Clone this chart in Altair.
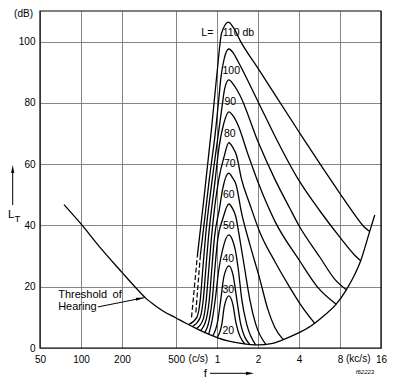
import altair as alt
import pandas as pd

W, H = 341, 337
FONT = "Liberation Sans"

# ---- axes ----
x_ticks = [0.05, 0.1, 0.2, 0.5, 1, 2, 4, 8, 16]          # kHz
y_grid = [0, 10, 20, 30, 40, 50, 60, 70, 80, 90, 100, 110]

# ---- threshold of hearing (kHz, dB) ----
thr_f = [0.075, 0.1, 0.14, 0.2, 0.25, 0.3, 0.35, 0.4, 0.5, 0.6, 0.7, 0.8, 0.9, 1.0, 1.2, 1.5,
         2.0, 2.5, 3.0, 4.0, 4.85, 6.0, 7.5, 8.9, 10.0, 11.35, 13.2, 14.4]
thr_db = [46.8, 40.5, 32.5, 24.7, 19.9, 16.2, 13.9, 12.1, 9.8, 7.9, 6.4, 5.2, 4.2, 3.4, 2.3, 1.5,
          1.0, 1.4, 2.6, 5.0, 7.1, 10.3, 14.3, 19.0, 23.0, 28.5, 38.0, 43.4]

# ---- masking curves, masker level L (kHz, dB) ----
m110_f = [0.716, 0.80, 0.91, 1.0, 1.08, 1.21, 1.33, 1.47, 2.0, 4.0, 6.0, 8.0, 10.0, 12.0, 13.2]
m110_db = [30.0, 48.7, 71.6, 90.0, 102.8, 106.4, 104.3, 100.5, 91.3, 70.5, 58.6, 50.4, 44.2, 39.6, 38.0]
m110d_f = [0.649, 0.716]
m110d_db = [10.0, 30.0]

m100_f = [0.753, 0.779, 0.877, 0.978, 1.03, 1.065, 1.13, 1.22, 1.32, 1.426, 2.0, 2.65, 3.93, 5.68, 7.97, 10.26, 11.35]
m100_db = [30.1, 35.6, 55.2, 71.6, 81.5, 88.0, 94.6, 97.6, 96.2, 93.5, 80.4, 69.3, 55.2, 44.8, 36.2, 30.3, 28.5]
m100d_f = [0.698, 0.753]
m100d_db = [11.6, 30.1]

m90_f = [0.62, 0.71, 0.753, 0.785, 0.819, 0.922, 1.034, 1.083, 1.139, 1.22, 1.32, 1.468, 2.0, 2.65, 3.42, 4.0, 5.68, 7.3, 8.9]
m90_db = [7.7, 10.0, 15.9, 25.7, 35.6, 55.2, 71.6, 78.2, 84.8, 87.5, 86.0, 82.6, 67.3, 55.2, 45.6, 39.9, 29.7, 22.5, 19.0]

m80_f = [0.663, 0.746, 0.792, 0.826, 0.862, 0.97, 1.03, 1.12, 1.22, 1.32, 1.426, 1.68, 2.06, 2.65, 4.05, 5.49, 7.5]
m80_db = [7.1, 9.6, 15.9, 25.7, 35.6, 55.2, 65.1, 73.3, 77.1, 75.6, 72.7, 63.4, 52.6, 41.5, 28.4, 19.8, 14.3]

m70_f = [0.71, 0.792, 0.833, 0.869, 0.907, 1.03, 1.12, 1.22, 1.31, 1.388, 1.51, 1.738, 2.06, 2.65, 3.42, 4.2, 5.2]
m70_db = [6.4, 9.5, 15.9, 25.7, 35.6, 55.2, 62.1, 67.0, 65.3, 62.9, 55.2, 47.0, 37.8, 28.3, 19.8, 13.5, 8.1]

m60_f = [0.76, 0.833, 0.877, 0.914, 0.954, 1.04, 1.10, 1.22, 1.30, 1.372, 1.518, 1.738, 2.06, 2.36, 2.65, 3.05]
m60_db = [5.8, 9.4, 15.9, 25.7, 35.6, 45.4, 52.0, 57.1, 55.5, 53.6, 43.8, 33.9, 22.5, 12.6, 6.8, 2.8]

m50_f = [0.812, 0.877, 0.922, 0.962, 1.012, 1.10, 1.22, 1.30, 1.37, 1.468, 1.597, 1.738, 1.924, 2.28]
m50_db = [5.1, 9.3, 15.9, 25.7, 35.6, 42.1, 47.0, 45.5, 43.0, 35.6, 25.7, 15.9, 7.7, 1.2]

m40_f = [0.869, 0.922, 0.97, 1.03, 1.10, 1.22, 1.29, 1.36, 1.431, 1.518, 1.652, 1.92]
m40_db = [4.6, 9.3, 15.9, 25.7, 32.3, 36.9, 35.5, 32.0, 25.7, 15.9, 7.7, 1.05]

m30_f = [0.93, 1.01, 1.065, 1.12, 1.22, 1.31, 1.395, 1.493, 1.74]
m30_db = [4.0, 8.7, 15.9, 23.1, 26.8, 23.8, 15.9, 7.7, 1.2]

m20_f = [1.0, 1.083, 1.13, 1.22, 1.31, 1.37, 1.6]
m20_db = [3.4, 7.7, 13.6, 17.0, 13.9, 8.7, 1.3]

# ---- curve labels ----
lab_text = ["100", "90", "80", "70", "60", "50", "40", "30", "20"]
lab_f = [1.27, 1.25, 1.24, 1.24, 1.22, 1.22, 1.21, 1.21, 1.21]
lab_db = [90.3, 80.2, 70.0, 59.9, 50.0, 39.9, 29.2, 18.9, 5.5]

rows = []


def add(name, fs, ds, style="solid"):
    for i, (f, d) in enumerate(zip(fs, ds)):
        rows.append(dict(curve=name, order=i, f=f, db=d, style=style))


add("thr", thr_f, thr_db)
for nm, fs, ds in [("110", m110_f, m110_db), ("100", m100_f, m100_db), ("90", m90_f, m90_db),
                   ("80", m80_f, m80_db), ("70", m70_f, m70_db), ("60", m60_f, m60_db),
                   ("50", m50_f, m50_db), ("40", m40_f, m40_db), ("30", m30_f, m30_db),
                   ("20", m20_f, m20_db)]:
    add("L" + nm, fs, ds)
add("L110d", m110d_f, m110d_db, "dash")
add("L100d", m100d_f, m100d_db, "dash")
df = pd.DataFrame(rows)

x_scale = alt.Scale(type="log", domain=[0.05, 16], nice=False)
y_scale = alt.Scale(domain=[0, 110], nice=False, zero=False)

x_enc = alt.X("f:Q", scale=x_scale,
              axis=alt.Axis(values=x_ticks, title=None, labelFlush=False, labelOverlap=False,
                            labelExpr="datum.value < 1 ? format(round(datum.value*1000), 'd') : format(datum.value, 'd')"))
y_enc = alt.Y("db:Q", scale=y_scale,
              axis=alt.Axis(values=y_grid, title=None, labelOverlap=False,
                            labelExpr="datum.value % 20 == 0 ? datum.label : ''"))

base = alt.Chart(df).encode(x=x_enc, y=y_enc, detail="curve:N", order="order:Q")
solid = base.transform_filter("datum.style == 'solid'").mark_line(
    interpolate="monotone", color="black", strokeWidth=1.3)
dashed = base.transform_filter("datum.style == 'dash'").mark_line(
    color="black", strokeWidth=1.2, strokeDash=[5, 2.5])

lab_df = pd.DataFrame({"f": lab_f, "db": lab_db, "t": lab_text})
labels = alt.Chart(lab_df).mark_text(font=FONT, fontSize=10.5, color="black",
                                     align="center", baseline="middle").encode(
    x=alt.X("f:Q", scale=x_scale), y=alt.Y("db:Q", scale=y_scale), text="t:N")

one = pd.DataFrame({"k": [0]})

lab_L = alt.Chart(pd.DataFrame({"f": [0.938], "db": [102.8], "t": ["L="]})).mark_text(
    font=FONT, fontSize=10.5, align="right", baseline="middle", color="black").encode(
    x="f:Q", y="db:Q", text="t:N")
lab_110 = alt.Chart(pd.DataFrame({"f": [1.101], "db": [102.8], "t": ["110 db"]})).mark_text(
    font=FONT, fontSize=10.5, align="left", baseline="middle", color="black").encode(
    x="f:Q", y="db:Q", text="t:N")

thr_txt = alt.Chart(pd.DataFrame({"f": [0.068, 0.068], "db": [17.3, 13.5],
                                  "t": ["Threshold\u2002of", "Hearing"]})).mark_text(
    font=FONT, fontSize=11, align="left", baseline="middle", color="black").encode(
    x="f:Q", y="db:Q", text="t:N")

arr_df = pd.DataFrame({"f": [0.133], "db": [13.4], "f2": [0.29], "db2": [16.4]})
thr_arrow = alt.Chart(arr_df).mark_rule(color="black", strokeWidth=1).encode(
    x="f:Q", y="db:Q", x2="f2:Q", y2="db2:Q")
RIGHT = "M0,0L-2,-0.4L-2,0.4Z"
UP = "M0,0L0.4,2L-0.4,2Z"
thr_head = alt.Chart(arr_df).mark_point(shape=RIGHT, filled=True, size=64, color="black",
                                        opacity=1, angle=349).encode(x="f2:Q", y="db2:Q")

cs = alt.Chart(pd.DataFrame({"f": [0.5], "t": ["(c/s)"]})).mark_text(
    font=FONT, fontSize=10, align="left", baseline="top", dx=12.5, color="black").encode(
    x="f:Q", y=alt.value(H + 6), text="t:N")
kcs = alt.Chart(pd.DataFrame({"f": [8], "t": ["(kc/s)"]})).mark_text(
    font=FONT, fontSize=10, align="left", baseline="top", dx=6, color="black").encode(
    x="f:Q", y=alt.value(H + 6), text="t:N")

dB_t = alt.Chart(one).mark_text(font=FONT, fontSize=10, align="right", baseline="middle",
                                text="(dB)", color="black").encode(x=alt.value(-7), y=alt.value(2.5))
L_t = alt.Chart(one).mark_text(font=FONT, fontSize=11.5, align="center", baseline="middle",
                               text="L", color="black").encode(x=alt.value(-28.8), y=alt.value(203.5))
T_t = alt.Chart(one).mark_text(font=FONT, fontSize=9.5, align="center", baseline="middle",
                               text="T", color="black").encode(x=alt.value(-22.6), y=alt.value(208))
L_line = alt.Chart(one).mark_rule(color="black", strokeWidth=1).encode(
    x=alt.value(-27.3), y=alt.value(160), y2=alt.value(194))
L_head = alt.Chart(one).mark_point(shape=UP, filled=True, size=64, color="black", opacity=1).encode(
    x=alt.value(-27.3), y=alt.value(154))
f_t = alt.Chart(one).mark_text(font=FONT, fontSize=11.5, align="center", baseline="middle",
                               text="f", color="black").encode(x=alt.value(165.3), y=alt.value(362.5))
f_line = alt.Chart(one).mark_rule(color="black", strokeWidth=1).encode(
    x=alt.value(170), x2=alt.value(208), y=alt.value(362.3))
f_head = alt.Chart(one).mark_point(shape=RIGHT, filled=True, size=64, color="black", opacity=1).encode(
    x=alt.value(214), y=alt.value(362.3))
code_t = alt.Chart(one).mark_text(font=FONT, fontSize=6, fontStyle="italic", align="center",
                                  baseline="middle", text="f62223", color="black").encode(
    x=alt.value(325), y=alt.value(360.5))
border = alt.Chart(one).mark_rect(fill=None, stroke="black", strokeWidth=1.2).encode(
    x=alt.value(0), x2=alt.value(W), y=alt.value(0), y2=alt.value(H))

chart = alt.layer(
    solid, dashed, labels, lab_L, lab_110, thr_txt, thr_arrow, thr_head, cs, kcs,
    dB_t, L_t, T_t, L_line, L_head, f_t, f_line, f_head, code_t, border
).properties(
    width=W, height=H,
    autosize=alt.AutoSizeParams(type="none"),
    padding={"left": 32, "top": 3, "right": 11, "bottom": 32},
    background="white",
).configure_axis(
    grid=True, gridColor="#777777", gridWidth=0.9, domain=False, ticks=False,
    labelFont=FONT, labelFontSize=10, labelColor="black", labelPadding=6,
).configure_axisY(labelPadding=5).configure_view(stroke=None)

chart.save("out.html", embed_options={"renderer": "svg", "actions": False})
